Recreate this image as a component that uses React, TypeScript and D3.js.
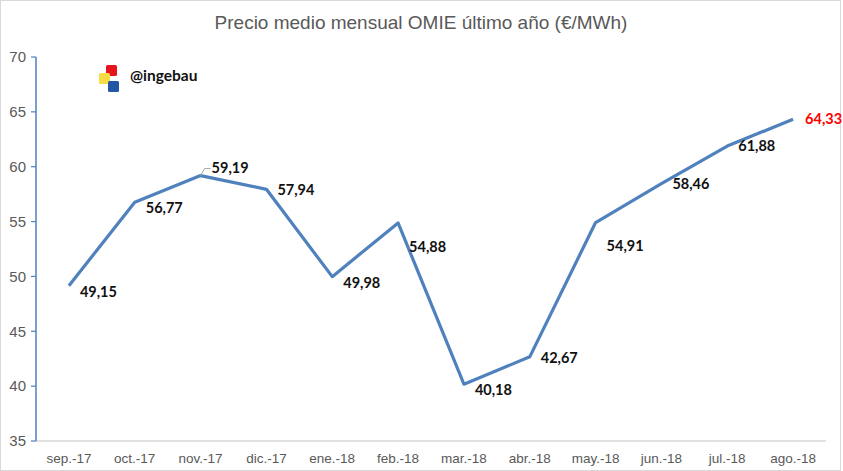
import React from 'react';
import * as d3 from 'd3';

const months = ['sep.-17', 'oct.-17', 'nov.-17', 'dic.-17', 'ene.-18', 'feb.-18', 'mar.-18', 'abr.-18', 'may.-18', 'jun.-18', 'jul.-18', 'ago.-18'];
const prices = [49.15, 56.77, 59.19, 57.94, 49.98, 54.88, 40.18, 42.67, 54.91, 58.46, 61.88, 64.33];
// vertical shift of each data label relative to its point (label centre)
const labelShift = [6, 6, -8, 1, 6, 24, 6, 1, 23, 0, 0, 0];
const yTicks = [35, 40, 45, 50, 55, 60, 65, 70];

const W = 843;
const H = 471;
const margin = { top: 57, right: 17, bottom: 30, left: 36 };

const App: React.FC = () => {
  const x = d3.scaleBand<string>()
    .domain(months)
    .range([margin.left, W - margin.right]);

  const y = d3.scaleLinear()
    .domain([35, 70])
    .range([441, 57]);

  const cx = (m: string) => (x(m) ?? 0) + x.bandwidth() / 2;

  const line = d3.line<number>()
    .x((_, i) => cx(months[i]))
    .y(d => y(d));

  const fmt = (v: number) => v.toFixed(2).replace('.', ',');

  return (
    <div style={{ position: 'absolute', left: 0, top: 0 }}>
      <svg width={W} height={H} style={{ display: 'block', background: '#fff' }}>
        <rect x={0.5} y={0.5} width={W - 3} height={H - 1} fill="#fff" stroke="#d9d9d9" />

        <text x={421} y={29} textAnchor="middle" fontFamily="Liberation Sans, Arial, sans-serif"
          fontSize={19} fill="#595959">
          Precio medio mensual OMIE último año (€/MWh)
        </text>

        {/* logo */}
        <rect x={106} y={65} width={11} height={11} rx={1.5} fill="#e8141c" />
        <rect x={99} y={73} width={11} height={11} rx={1.5} fill="#f7dc45" />
        <rect x={108} y={81} width={11} height={11} rx={1.5} fill="#2456a6" />
        <text x={130} y={81} fontFamily="Lato, Liberation Sans, sans-serif" fontWeight="bold"
          fontSize={15.5} fill="#111">@ingebau</text>

        {/* baseline */}
        <line x1={margin.left} x2={W - margin.right} y1={y(35)} y2={y(35)} stroke="#d9d9d9" strokeWidth={1.5} />

        {/* y axis */}
        <line x1={margin.left} x2={margin.left} y1={y(70)} y2={y(35)} stroke="#4f81bd" strokeWidth={1.5} />
        {yTicks.map(t => (
          <g key={t}>
            <line x1={margin.left - 5} x2={margin.left} y1={y(t)} y2={y(t)} stroke="#4f81bd" strokeWidth={1.2} />
            <text x={26} y={y(t)} dy="0.35em" textAnchor="end" fontFamily="Liberation Sans, Arial, sans-serif"
              fontSize={15} fill="#595959">{t}</text>
          </g>
        ))}

        {/* x labels */}
        {months.map(m => (
          <text key={m} x={cx(m)} y={463} textAnchor="middle" fontFamily="Liberation Sans, Arial, sans-serif"
            fontSize={13.5} fill="#595959">{m}</text>
        ))}

        <path d={line(prices) ?? ''} fill="none" stroke="#4f81bd" strokeWidth={3.2} strokeLinejoin="round" />

        {/* leader for nov label */}
        <path d={`M${cx(months[2])},${y(prices[2])} L${cx(months[2]) + 4},${y(prices[2]) - 7} L${cx(months[2]) + 10},${y(prices[2]) - 7}`}
          fill="none" stroke="#a6a6a6" strokeWidth={1} />

        {prices.map((v, i) => (
          <text key={months[i]}
            x={cx(months[i]) + (i === prices.length - 1 ? 12 : 11)}
            y={y(v) + labelShift[i]}
            dy="0.35em"
            fontFamily="Lato, Liberation Sans, sans-serif"
            fontWeight="bold"
            fontSize={14.5}
            fill={i === prices.length - 1 ? '#ff0000' : '#111'}>
            {fmt(v)}
          </text>
        ))}
      </svg>
    </div>
  );
};

export default App;
